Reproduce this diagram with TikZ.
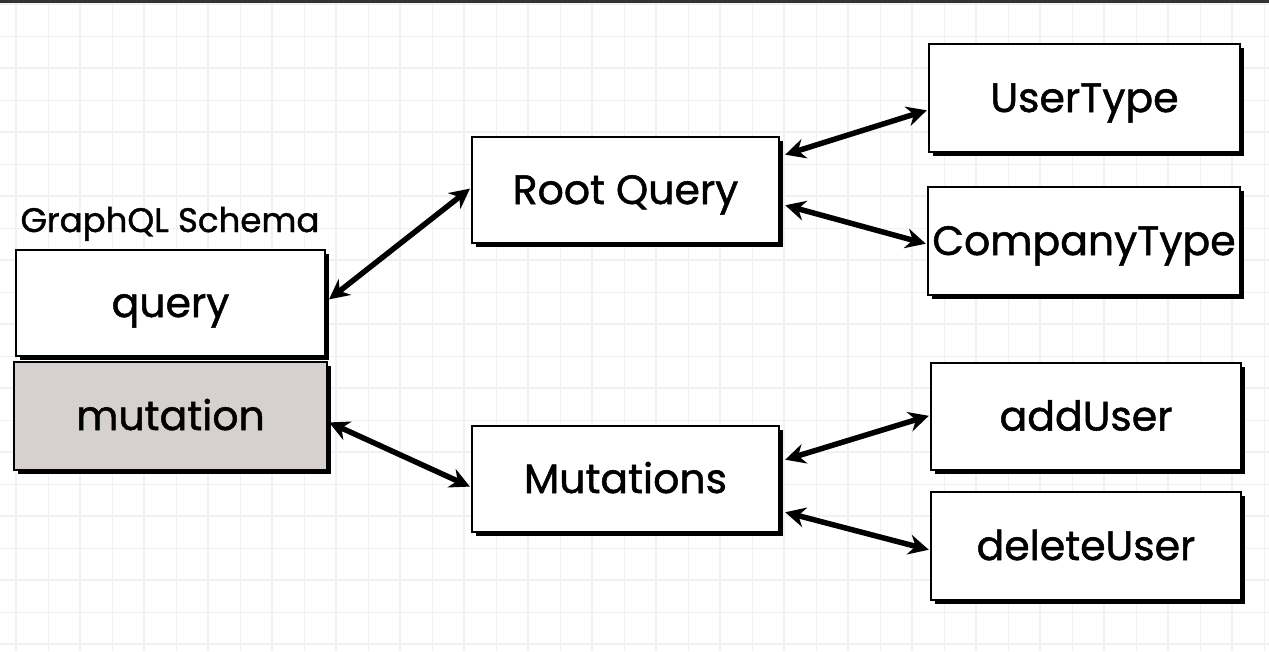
\documentclass[tikz,border=0pt]{standalone}
\usepackage{fontspec}
\setmainfont{Poppins}[FakeBold=1.2]
\usetikzlibrary{arrows.meta}
\definecolor{gridc}{RGB}{241,241,245}
\definecolor{mutfill}{RGB}{214,208,206}
\tikzset{
  box/.style={draw=black, line width=2.5pt, fill=white, inner sep=0pt, text height=28pt, text depth=0pt, font=\fontsize{41}{43}\selectfont},
  shadowbox/.style={fill=black},
  link/.style={line width=5.5pt, {Stealth[length=20pt,width=20pt]}-{Stealth[length=20pt,width=20pt]}, shorten <=1pt, shorten >=1pt}
}
\begin{document}
\begin{tikzpicture}[x=1pt,y=-1pt]
\useasboundingbox (0,0) rectangle (1269,651);
\fill[white] (0,0) rectangle (1269,651);
% grid
\foreach \x in {16,48,...,1269} {\draw[gridc, line width=0.6pt] (\x,4) -- (\x,651);}
\foreach \y in {4,36,...,651} {\draw[gridc, line width=0.6pt] (0,\y) -- (1269,\y);}
\foreach \x in {16,80,...,1269} {\draw[gridc, line width=1.4pt] (\x,4) -- (\x,651);}
\foreach \y in {4,68,...,651} {\draw[gridc, line width=1.4pt] (0,\y) -- (1269,\y);}
\fill[black!80] (0,0) rectangle (1269,3);
% shadows
\foreach \a/\b/\c/\d in {16/250/325/356, 14/362/327/470, 472/137/779/243, 472/426/779/532, 929/44/1240/152, 928/187/1240/295, 931/363/1241/470, 931/492/1241/600}
  {\fill[shadowbox] (\a+4,\b+4) rectangle (\c+4,\d+4);}
% boxes
\node[box, minimum width=309pt, minimum height=106pt] (query) at (170.5,303) {query};
\node[box, fill=mutfill, minimum width=313pt, minimum height=108pt] (mutation) at (170.5,416) {mutation};
\node[font=\fontsize{34}{36}\selectfont, anchor=base] (schema) at (170,232) {GraphQL Schema};
\node[box, minimum width=307pt, minimum height=106pt] (root) at (625.5,190) {Root Query};
\node[box, minimum width=307pt, minimum height=106pt] (muts) at (625.5,479) {Mutations};
\node[box, minimum width=311pt, minimum height=108pt] (user) at (1084.5,98) {UserType};
\node[box, minimum width=312pt, minimum height=108pt] (company) at (1084,241) {CompanyType};
\node[box, minimum width=310pt, minimum height=107pt] (add) at (1086,416.5) {addUser};
\node[box, minimum width=310pt, minimum height=108pt] (del) at (1086,546) {deleteUser};
% connectors
\draw[link] ([xshift=2pt,yshift=3pt]query.east) -- ([yshift=2pt]root.west);
\draw[link] ([yshift=-6pt]mutation.east) -- ([yshift=-8pt]muts.west);
\draw[link] ([xshift=4pt,yshift=35pt]root.east) -- ([yshift=-12pt]user.west);
\draw[link] ([xshift=4pt,yshift=-15pt]root.east) -- ([yshift=-3pt]company.west);
\draw[link] ([xshift=4pt,yshift=19pt]muts.east) -- ([yshift=1pt]add.west);
\draw[link] ([xshift=4pt,yshift=-33pt]muts.east) -- ([yshift=-4pt]del.west);
\end{tikzpicture}
\end{document}
